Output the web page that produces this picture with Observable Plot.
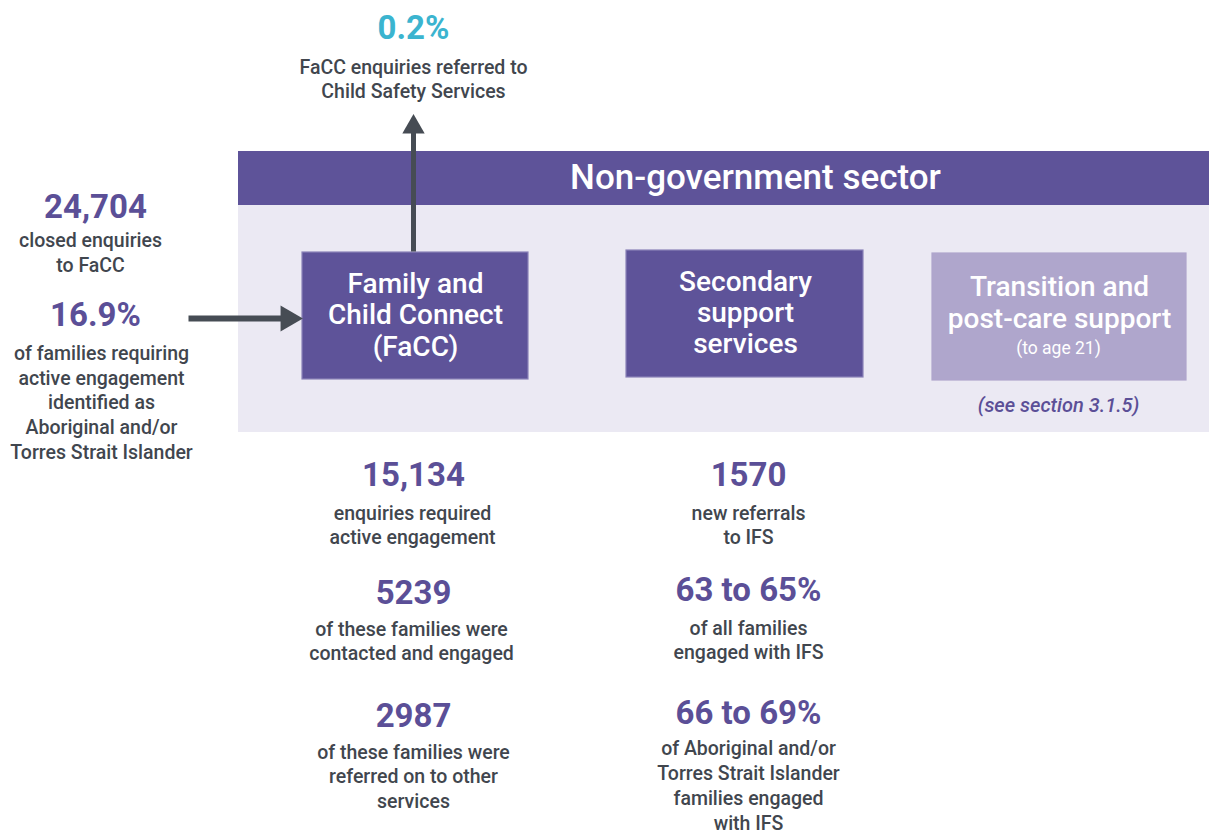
<!DOCTYPE html>
<html>
<head>
<meta charset="utf-8">
<script src="https://cdn.jsdelivr.net/npm/d3@7"></script>
<script src="https://cdn.jsdelivr.net/npm/@observablehq/plot@0.6"></script>
<style>
  html, body { margin: 0; padding: 0; background: #ffffff; }
  svg { display: block; }
</style>
</head>
<body>
<div id="chart"></div>
<script>
// ---------- content (values and texts) ----------
const sectorTitle = "Non-government sector";
const serviceBoxes = ["Family and\nChild Connect\n(FaCC)", "Secondary\nsupport\nservices", "Transition and\npost-care support"];
const serviceNotes = ["(to age 21)"];
const sectionRef = ["(see section 3.1.5)"];
const headlineValues = ["0.2%", "24,704", "16.9%", "15,134", "5239", "2987", "1570", "63 to 65%", "66 to 69%"];
const headlineCaptions = [
  "FaCC enquiries referred to\nChild Safety Services",
  "closed enquiries\nto FaCC",
  "of families requiring\nactive engagement\nidentified as\nAboriginal and/or\nTorres Strait Islander",
  "enquiries required\nactive engagement",
  "of these families were\ncontacted and engaged",
  "of these families were\nreferred on to other\nservices",
  "new referrals\nto IFS",
  "of all families\nengaged with IFS",
  "of Aboriginal and/or\nTorres Strait Islander\nfamilies engaged\nwith IFS"
];

// ---------- layout (positions, kept apart from the content) ----------
const W = 1209, H = 834;
const panelLayout = [
  {x1: 238, x2: 1209, y1: 205, y2: 432, fill: "#ebe9f3"},
  {x1: 238, x2: 1209, y1: 151, y2: 205, fill: "#5e5399"}
];
const boxLayout = [
  {x1: 302, x2: 528, y1: 252, y2: 379, fill: "#5e5399", stroke: "#8a82b8", cx: 415, cy: 314},
  {x1: 626, x2: 863, y1: 250, y2: 377, fill: "#5e5399", stroke: "#8a82b8", cx: 745, cy: 311.5},
  {x1: 932, x2: 1186, y1: 253, y2: 380, fill: "#afa6cc", stroke: "#afa6cc", cx: 1059, cy: 301.5}
];
const headlineLayout = [
  {x: 413, y: 28, fill: "#3bb4cf"},
  {x: 95, y: 207}, {x: 95, y: 315},
  {x: 413, y: 475}, {x: 413, y: 593}, {x: 413, y: 716},
  {x: 748, y: 475}, {x: 748, y: 590}, {x: 748, y: 713}
];
const captionLayout = [
  {x: 413, y: 77.5}, {x: 90, y: 251}, {x: 101, y: 401},
  {x: 412, y: 523.5}, {x: 411, y: 639.5}, {x: 413, y: 775},
  {x: 748, y: 523.5}, {x: 748, y: 638.5}, {x: 748, y: 784}
];
const upShaft = [{x1: 413, y1: 251, x2: 413, y2: 130}];
const rightShaft = [{x1: 188, y1: 318, x2: 284, y2: 318}];
const upHead = [{x: 413, y: 126.5}];
const rightHead = [{x: 287.5, y: 318}];

const purple = "#5b4f97";
const grey = "#41464e";
const arrowGrey = "#464c54";
const font = "Roboto, 'Noto Sans', sans-serif";

const boxes = serviceBoxes.map((t, i) => ({...boxLayout[i], text: t}));
const headlines = headlineValues.map((t, i) => ({...headlineLayout[i], text: t, fill: headlineLayout[i].fill || purple}));
const captions = headlineCaptions.map((t, i) => ({...captionLayout[i], text: t}));

const chart = Plot.plot({
  width: W,
  height: H,
  margin: 0,
  x: {domain: [0, W], range: [0, W], axis: null},
  y: {domain: [0, H], range: [0, H], axis: null},
  style: {fontFamily: font, background: "#ffffff"},
  marks: [
    Plot.rect(panelLayout, {x1: "x1", x2: "x2", y1: "y1", y2: "y2", fill: d => d.fill}),
    Plot.rect(boxes, {x1: "x1", x2: "x2", y1: "y1", y2: "y2", fill: d => d.fill, stroke: d => d.stroke, strokeWidth: 1.2}),
    Plot.text([sectorTitle], {x: () => 755, y: () => 177, text: d => d, fill: "#ffffff", fontSize: 35, fontWeight: 500, textAnchor: "middle", lineAnchor: "middle"}),
    Plot.text(boxes, {x: "cx", y: "cy", text: "text", fill: "#ffffff", fontSize: 28, fontWeight: 500, lineHeight: 1.11, textAnchor: "middle", lineAnchor: "middle"}),
    Plot.text(serviceNotes, {x: () => 1058, y: () => 348, text: d => d, fill: "#ffffff", fontSize: 17.5, textAnchor: "middle", lineAnchor: "middle"}),
    Plot.text(sectionRef, {x: () => 1058, y: () => 405, text: d => d, fill: purple, fontSize: 20, fontWeight: 500, fontStyle: "italic", textAnchor: "middle", lineAnchor: "middle"}),
    Plot.link(upShaft, {x1: "x1", y1: "y1", x2: "x2", y2: "y2", stroke: arrowGrey, strokeWidth: 5}),
    Plot.link(rightShaft, {x1: "x1", y1: "y1", x2: "x2", y2: "y2", stroke: arrowGrey, strokeWidth: 6}),
    Plot.dot(upHead, {x: "x", y: "y", r: 8.3, symbol: "triangle", fill: arrowGrey, stroke: null}),
    Plot.dot(rightHead, {x: "x", y: "y", r: 9.6, rotate: 90, symbol: "triangle", fill: arrowGrey, stroke: null}),
    Plot.text(headlines, {x: "x", y: "y", text: "text", fill: d => d.fill, fontSize: 33, fontWeight: 700, textAnchor: "middle", lineAnchor: "middle"}),
    Plot.text(captions, {x: "x", y: "y", text: "text", fill: grey, fontSize: 19.5, fontWeight: 500, lineHeight: 1.27, textAnchor: "middle", lineAnchor: "middle"})
  ]
});
document.getElementById("chart").appendChild(chart);
</script>
</body>
</html>
